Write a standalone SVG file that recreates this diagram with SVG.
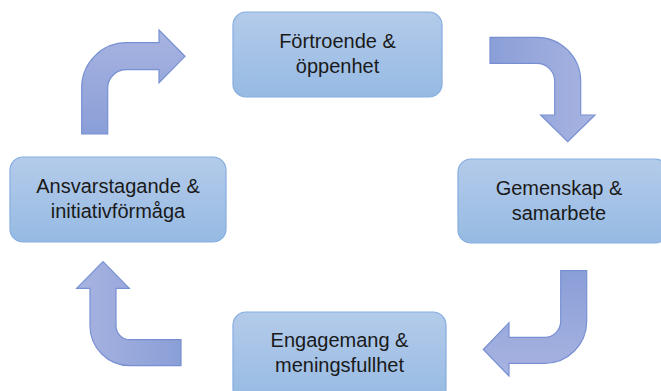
<svg xmlns="http://www.w3.org/2000/svg" width="661" height="391" viewBox="0 0 661 391">
<defs>
<linearGradient id="box" x1="0" y1="0" x2="0" y2="1">
<stop offset="0" stop-color="#b4cbea"/>
<stop offset="1" stop-color="#96bae3"/>
</linearGradient>
<linearGradient id="a1" x1="0" y1="1" x2="0" y2="0"><stop offset="0" stop-color="#8a9ed7"/><stop offset="1" stop-color="#a8b4e1"/></linearGradient>
<linearGradient id="a2" x1="0" y1="0" x2="1" y2="0"><stop offset="0" stop-color="#8a9ed7"/><stop offset="1" stop-color="#a8b4e1"/></linearGradient>
<linearGradient id="a3" x1="0" y1="0" x2="0" y2="1"><stop offset="0" stop-color="#8a9ed7"/><stop offset="1" stop-color="#a8b4e1"/></linearGradient>
<linearGradient id="a4" x1="1" y1="0" x2="0" y2="0"><stop offset="0" stop-color="#8a9ed7"/><stop offset="1" stop-color="#a8b4e1"/></linearGradient>
</defs>
<style>
.b{stroke:#85ade0;stroke-width:1.2}
.t{font-family:"Liberation Sans",Arial,sans-serif;font-size:20px;fill:#1a1a1a;text-anchor:middle}
.ar{stroke:#7890d3;stroke-width:1.2;stroke-linejoin:miter}
</style>
<g id="n1"><rect class="b" x="233" y="12" width="209" height="85" rx="13" fill="url(#box)"/><text class="t" x="337.5" y="48">Förtroende &amp;</text><text class="t" x="337.5" y="73">öppenhet</text></g>
<g id="n2"><rect class="b" x="458" y="159" width="210" height="84" rx="13" fill="url(#box)"/><text class="t" x="559" y="195">Gemenskap &amp;</text><text class="t" x="559" y="220">samarbete</text></g>
<g id="n3"><rect class="b" x="233" y="312" width="213" height="90" rx="13" fill="url(#box)"/><text class="t" x="339.5" y="347">Engagemang &amp;</text><text class="t" x="339.5" y="372">meningsfullhet</text></g>
<g id="n4"><rect class="b" x="10" y="157" width="216" height="85" rx="13" fill="url(#box)"/><text class="t" x="118" y="193">Ansvarstagande &amp;</text><text class="t" x="118" y="218">initiativförmåga</text></g>
<g id="connectors">
<path class="ar" fill="url(#a1)" d="M81.7,134 L81.7,87.7 A45,45 0 0 1 126.7,42.7 L159,42.7 L159,30 L185,56.3 L159,82.7 L159,69.7 L126.7,69.7 A19,18 0 0 0 107.7,87.7 L107.7,134 Z"/>
<path class="ar" fill="url(#a2)" d="M490,37.3 L536.7,37.3 A44,44 0 0 1 580.7,81.3 L580.7,115 L595,115 L567.7,141.7 L540.7,115 L554.7,115 L554.7,81.3 A18,18 0 0 0 536.7,63.3 L490,63.3 Z"/>
<path class="ar" fill="url(#a3)" d="M560.7,270.7 L586.7,270.7 L586.7,321.3 A42,42 0 0 1 544.7,363.3 L509,363.3 L509,376 L483.3,349.5 L509,322.7 L509,337.3 L544.7,337.3 A16,16 0 0 0 560.7,321.3 Z"/>
<path class="ar" fill="url(#a4)" d="M181,339.7 L181,365.7 L130,365.7 A40,40 0 0 1 90,325.7 L90,288.3 L76.7,288.3 L103,261.7 L129.3,288.3 L116,288.3 L116,325.7 A14,14 0 0 0 130,339.7 Z"/>
</g>
</svg>
